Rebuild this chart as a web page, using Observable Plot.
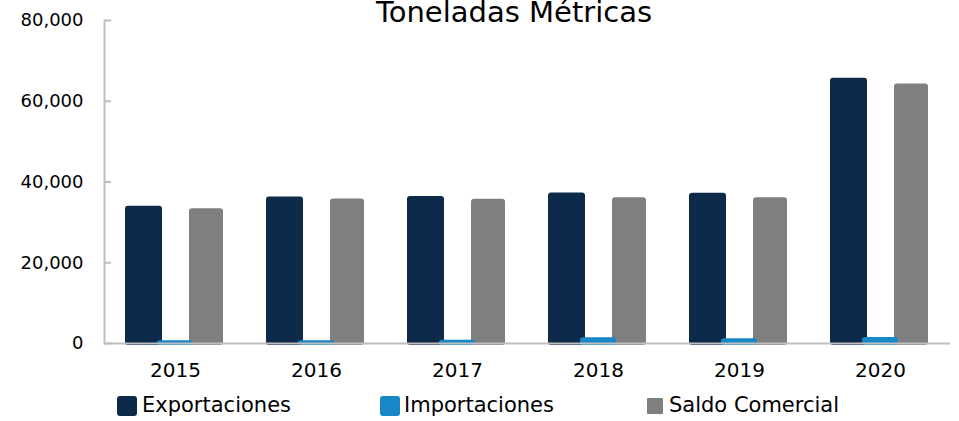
<!DOCTYPE html>
<html>
<head>
<meta charset="utf-8">
<script src="https://cdn.jsdelivr.net/npm/d3@7"></script>
<script src="https://cdn.jsdelivr.net/npm/@observablehq/plot@0.6"></script>
<style>
  html, body { margin: 0; padding: 0; background: #fff; }
  #wrap { position: relative; width: 959px; height: 421px; overflow: hidden; font-family: "DejaVu Sans", sans-serif; color: #000; }
  #title { position: absolute; left: 0; width: 1028px; text-align: center; top: -5px; font-size: 29px; line-height: 34px; }
  #chart { position: absolute; left: 0; top: 0; }
  #legend { position: absolute; left: 0; top: 390px; width: 959px; height: 31px; }
  .sw { position: absolute; border-radius: 3px; }
  .lbl { position: absolute; font-size: 21px; line-height: 24px; top: 3px; white-space: nowrap; }
</style>
</head>
<body>
<div id="wrap">
  <div id="chart"></div>
  <div id="title">Toneladas Métricas</div>
  <div id="legend"></div>
</div>
<script>
const years = ["2015", "2016", "2017", "2018", "2019", "2020"];
const exportaciones = [34000, 36300, 36400, 37300, 37200, 65700];
const importaciones = [700, 700, 800, 1400, 1200, 1500];
const saldoComercial = [33400, 35800, 35700, 36100, 36100, 64300];
const seriesNames = ["Exportaciones", "Importaciones", "Saldo Comercial"];
const seriesColors = ["#0d2a4a", "#1787c8", "#7f7f7f"];
const yTicks = [0, 20000, 40000, 60000, 80000];

const rows = (vals) => years.map((y, i) => ({year: y, value: vals[i]}));
const barOpts = {x: "year", y: "value", rx: 3, insetBottom: -2};

const chart = Plot.plot({
  width: 959,
  height: 390,
  marginTop: 20,
  marginBottom: 47,
  marginLeft: 104,
  marginRight: 9,
  style: {fontFamily: "DejaVu Sans, sans-serif", color: "#000", background: "transparent"},
  x: {domain: years, paddingInner: 0.745, paddingOuter: 0.3725, label: null},
  y: {domain: [0, 80000], label: null},
  marks: [
    Plot.barY(rows(exportaciones), {...barOpts, fill: seriesColors[0], dx: -31.5, insetLeft: -0.5, insetRight: -0.5}),
    Plot.barY(rows(saldoComercial), {...barOpts, fill: seriesColors[2], dx: 31, insetLeft: 1, insetRight: 1}),
    Plot.barY(rows(importaciones), {...barOpts, fill: seriesColors[1]}),
    Plot.ruleY([0], {stroke: "#bfbfbf", strokeWidth: 2}),
    Plot.frame({anchor: "left", stroke: "#bfbfbf", strokeWidth: 2}),
    Plot.axisY({ticks: yTicks, tickFormat: d3.format(","), tickSize: -7, tickPadding: 28, stroke: "#bfbfbf", strokeWidth: 2, fontSize: 18, fill: "#000", label: null}),
    Plot.axisX({tickSize: 0, tickPadding: 19, fontSize: 20, fill: "#000", label: null})
  ]
});
document.getElementById("chart").appendChild(chart);

const legendPos = [
  {sw: 117, size: 20, top: 6, text: 142},
  {sw: 380, size: 20, top: 6, text: 404},
  {sw: 647, size: 16, top: 8, text: 669}
];
const legend = document.getElementById("legend");
seriesNames.forEach((name, i) => {
  const p = legendPos[i];
  const sw = document.createElement("div");
  sw.className = "sw";
  sw.style.left = p.sw + "px";
  sw.style.top = p.top + "px";
  sw.style.width = p.size + "px";
  sw.style.height = p.size + "px";
  sw.style.background = seriesColors[i];
  if (i === 2) sw.style.borderRadius = "1px";
  legend.appendChild(sw);
  const t = document.createElement("div");
  t.className = "lbl";
  t.style.left = p.text + "px";
  t.textContent = name;
  legend.appendChild(t);
});
</script>
</body>
</html>
